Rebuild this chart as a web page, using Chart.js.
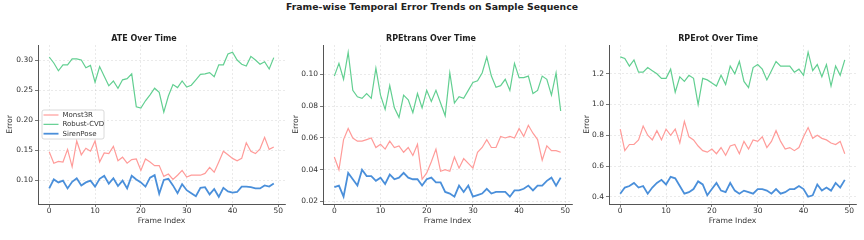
<!DOCTYPE html>
<html>
<head>
<meta charset="utf-8">
<script src="https://cdn.jsdelivr.net/npm/chart.js@4"></script>
<style>
  body { margin: 0; background: #fff; }
  #wrap { position: relative; width: 864px; height: 240px; }
  #suptitle { position: absolute; left: 0; top: 1px; width: 864px; line-height: 18px; text-align: center;
              font: bold 9.3px "DejaVu Sans", sans-serif; color: #222; }
  .panel { position: absolute; top: 0; height: 240px; }
</style>
</head>
<body>
<div id="wrap">
  <div id="suptitle">Frame-wise Temporal Error Trends on Sample Sequence</div>
  <div class="panel" style="left:0px;width:290px"><canvas id="ate"></canvas></div>
  <div class="panel" style="left:290px;width:290px"><canvas id="rpet"></canvas></div>
  <div class="panel" style="left:580px;width:284px"><canvas id="rper"></canvas></div>
</div>
<script>
var frames = [0,1,2,3,4,5,6,7,8,9,10,11,12,13,14,15,16,17,18,19,20,21,22,23,24,
  25,26,27,28,29,30,31,32,33,34,35,36,37,38,39,40,41,42,43,44,45,46,47,48,49];

var seriesNames = ["Monst3R", "Robust-CVD", "SirenPose"];

// ATE
var ateMonst3R = [0.147,0.128,0.131,0.130,0.151,0.122,0.165,0.142,0.153,0.148,0.165,0.130,0.145,0.144,0.156,0.132,0.138,0.128,0.134,0.135,
  0.116,0.135,0.130,0.124,0.124,0.106,0.110,0.101,0.108,0.116,0.105,0.108,0.108,0.108,0.111,0.121,0.113,0.130,0.148,0.142,
  0.136,0.132,0.136,0.162,0.148,0.144,0.152,0.171,0.151,0.155];
var ateRobust = [0.305,0.295,0.282,0.292,0.292,0.302,0.302,0.300,0.287,0.291,0.263,0.289,0.273,0.257,0.265,0.253,0.267,0.269,0.277,0.222,
  0.220,0.232,0.242,0.253,0.246,0.213,0.240,0.259,0.254,0.265,0.255,0.258,0.267,0.276,0.277,0.279,0.272,0.292,0.292,0.310,
  0.313,0.300,0.293,0.290,0.306,0.300,0.293,0.297,0.285,0.304];
var ateSiren = [0.086,0.101,0.096,0.099,0.086,0.097,0.103,0.091,0.096,0.099,0.089,0.102,0.107,0.094,0.103,0.090,0.099,0.086,0.107,0.101,
  0.096,0.089,0.104,0.108,0.077,0.100,0.102,0.091,0.078,0.093,0.083,0.078,0.073,0.087,0.088,0.076,0.085,0.072,0.087,0.081,
  0.079,0.080,0.089,0.089,0.088,0.086,0.086,0.091,0.089,0.094];

// RPEtrans
var rptMonst3R = [0.048,0.040,0.059,0.066,0.060,0.058,0.058,0.059,0.060,0.054,0.056,0.053,0.058,0.054,0.055,0.051,0.054,0.049,0.056,0.034,
  0.038,0.045,0.053,0.039,0.040,0.039,0.048,0.041,0.047,0.044,0.041,0.051,0.054,0.059,0.054,0.054,0.061,0.060,0.061,0.060,
  0.066,0.061,0.068,0.063,0.059,0.046,0.055,0.052,0.052,0.051];
var rptRobust = [0.099,0.107,0.097,0.114,0.090,0.086,0.085,0.088,0.085,0.104,0.087,0.078,0.093,0.079,0.073,0.087,0.084,0.076,0.088,0.079,
  0.090,0.083,0.090,0.082,0.074,0.101,0.082,0.086,0.085,0.090,0.095,0.096,0.101,0.111,0.099,0.092,0.093,0.097,0.090,0.107,
  0.098,0.098,0.099,0.088,0.090,0.099,0.097,0.087,0.101,0.077];
var rptSiren = [0.029,0.030,0.023,0.038,0.034,0.030,0.040,0.036,0.036,0.033,0.035,0.031,0.037,0.034,0.035,0.038,0.035,0.034,0.034,0.030,
  0.034,0.035,0.032,0.032,0.026,0.025,0.023,0.030,0.026,0.030,0.023,0.024,0.025,0.028,0.025,0.026,0.026,0.026,0.023,0.027,
  0.027,0.028,0.030,0.027,0.030,0.030,0.033,0.035,0.030,0.035];

// RPErot
var rprMonst3R = [0.84,0.70,0.74,0.74,0.77,0.86,0.80,0.77,0.83,0.77,0.84,0.80,0.84,0.75,0.89,0.79,0.77,0.73,0.70,0.69,
  0.71,0.68,0.72,0.67,0.73,0.74,0.68,0.76,0.71,0.77,0.76,0.79,0.72,0.76,0.83,0.76,0.71,0.72,0.70,0.72,
  0.79,0.85,0.78,0.80,0.78,0.77,0.75,0.74,0.76,0.68];
var rprRobust = [1.31,1.30,1.25,1.29,1.21,1.21,1.24,1.22,1.20,1.17,1.17,1.23,1.08,1.18,1.15,1.19,1.17,1.00,1.17,1.16,
  1.14,1.12,1.19,1.13,1.25,1.20,1.28,1.15,1.11,1.24,1.26,1.23,1.16,1.22,1.28,1.25,1.25,1.25,1.21,1.23,
  1.19,1.34,1.22,1.26,1.18,1.26,1.12,1.25,1.19,1.29];
var rprSiren = [0.42,0.46,0.47,0.49,0.46,0.47,0.42,0.46,0.49,0.51,0.48,0.53,0.52,0.47,0.42,0.43,0.45,0.50,0.48,0.41,
  0.45,0.49,0.44,0.43,0.49,0.44,0.42,0.44,0.43,0.42,0.45,0.45,0.44,0.42,0.45,0.42,0.43,0.45,0.45,0.47,
  0.45,0.40,0.41,0.48,0.44,0.46,0.44,0.49,0.46,0.51];

// tick labels
var xTicks = ["0", "10", "20", "30", "40", "50"];
var ateTicks = ["0.10", "0.15", "0.20", "0.25", "0.30"];
var rptTicks = ["0.02", "0.04", "0.06", "0.08", "0.10"];
var rprTicks = ["0.4", "0.6", "0.8", "1.0", "1.2"];

var colors = ["#ff9b99", "#62cf91", "#4a8fda"];
var widths = [1.2, 1.2, 1.8];
var font = '"DejaVu Sans", sans-serif';

// legend drawn inside the first panel, like matplotlib's loc="center left"
var legendBox = {
  id: 'legendBox',
  afterDatasetsDraw: function(chart, args, opts) {
    if (!opts.show) return;
    var ctx = chart.ctx, a = chart.chartArea;
    var x = a.left + 4, y = a.top + 65, w = 62, h = 29;
    ctx.save();
    ctx.fillStyle = 'rgba(255,255,255,0.85)';
    ctx.strokeStyle = '#d0d0d0';
    ctx.lineWidth = 0.8;
    ctx.beginPath();
    ctx.roundRect(x, y, w, h, 2);
    ctx.fill();
    ctx.stroke();
    ctx.font = '7px ' + font;
    ctx.textBaseline = 'middle';
    chart.data.datasets.forEach(function(ds, i) {
      var ry = y + 5 + i * 9.35;
      ctx.strokeStyle = ds.borderColor;
      ctx.lineWidth = ds.borderWidth;
      ctx.beginPath();
      ctx.moveTo(x + 1.5, ry);
      ctx.lineTo(x + 16.5, ry);
      ctx.stroke();
      ctx.fillStyle = '#333';
      ctx.fillText(ds.label, x + 20.5, ry);
    });
    ctx.restore();
  }
};

function makePanel(id, title, values, yMin, yMax, yLabels, lay, showLegend) {
  var datasets = values.map(function(v, i) {
    return {
      label: seriesNames[i],
      data: v,
      borderColor: colors[i],
      backgroundColor: colors[i],
      borderWidth: widths[i],
      pointRadius: 0,
      tension: 0,
      order: 2 - i
    };
  });
  var grid = {
    color: 'rgba(0,0,0,0.14)',
    lineWidth: 0.6,
    tickColor: '#555',
    tickLength: 3,
    tickWidth: 0.8
  };
  var border = { color: '#555', width: 1, dash: [2, 2] };
  return new Chart(document.getElementById(id), {
    type: 'line',
    data: { labels: frames, datasets: datasets },
    plugins: [legendBox],
    options: {
      responsive: true,
      maintainAspectRatio: false,
      animation: false,
      layout: { padding: { left: lay.padL, right: lay.padR, top: 0, bottom: 6 } },
      plugins: {
        legend: { display: false },
        tooltip: { enabled: false },
        legendBox: { show: showLegend },
        title: {
          display: true,
          text: title,
          color: '#222',
          font: { family: font, size: 8, weight: 'bold' },
          padding: { top: 34.2, bottom: 1.2 }
        }
      },
      scales: {
        x: {
          type: 'linear',
          min: -2.45,
          max: 51.45,
          grid: grid,
          border: border,
          afterBuildTicks: function(s) { s.ticks = xTicks.map(function(t) { return { value: parseFloat(t) }; }); },
          afterFit: function(s) { s.height = 30; },
          ticks: {
            padding: 0,
            maxRotation: 0,
            color: '#333',
            font: { family: font, size: 7.5 },
            callback: function(v, i) { return xTicks[i]; }
          },
          title: {
            display: true,
            text: 'Frame Index',
            color: '#333',
            font: { family: font, size: 7.7 },
            padding: { top: 0, bottom: 8.4 }
          }
        },
        y: {
          min: yMin,
          max: yMax,
          grid: grid,
          border: border,
          afterBuildTicks: function(s) { s.ticks = yLabels.map(function(t) { return { value: parseFloat(t) }; }); },
          afterFit: function(s) { s.width = lay.yW; },
          ticks: {
            padding: 2,
            color: '#333',
            font: { family: font, size: 7.5 },
            callback: function(v, i) { return yLabels[i]; }
          },
          title: {
            display: true,
            text: 'Error',
            color: '#333',
            font: { family: font, size: 7.7 },
            padding: { top: lay.tPad, bottom: 0 }
          }
        }
      }
    }
  });
}

makePanel('ate', 'ATE Over Time', [ateMonst3R, ateRobust, ateSiren], 0.060, 0.325, ateTicks,
  { padL: 3, padR: 5, yW: 35, tPad: 2.4 }, true);
makePanel('rpet', 'RPEtrans Over Time', [rptMonst3R, rptRobust, rptSiren], 0.0184, 0.1186, rptTicks,
  { padL: 0, padR: 8, yW: 33, tPad: 1.4 }, false);
makePanel('rper', 'RPErot Over Time', [rprMonst3R, rprRobust, rprSiren], 0.353, 1.387, rprTicks,
  { padL: 0, padR: 8, yW: 29, tPad: 2.4 }, false);
</script>
</body>
</html>
